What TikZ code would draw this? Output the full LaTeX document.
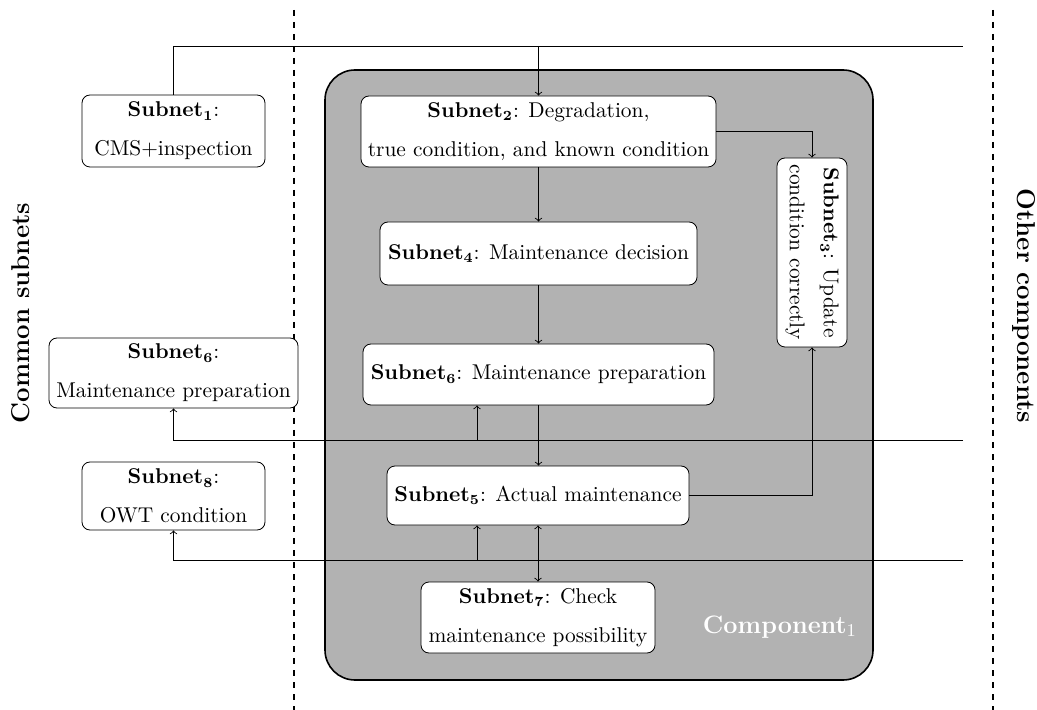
\documentclass[tikz,border=0pt]{standalone}
\usetikzlibrary{calc}
\tikzset{
  sbox/.style={draw, rounded corners=4pt, fill=white, align=center, inner sep=2pt,
    font=\fontsize{10.7}{13}\selectfont},
  conn/.style={->, line width=0.45pt},
  divider/.style={dashed, line width=0.6pt},
  sidelabel/.style={font=\fontsize{12.9}{15}\selectfont\bfseries},
}
\newcommand{\sn}[1]{\textbf{Subnet$_{\mathbf{#1}}$}}
\begin{document}
\begin{tikzpicture}[x=0.5pt, y=-0.5pt]
\useasboundingbox (0,0) rectangle (1037,710);

% component area
\draw[thick, fill=black!30, rounded corners=15pt] (325,70) rectangle (873,680);
\node[text=white, font=\fontsize{12.6}{15}\selectfont\bfseries, anchor=east] (comp) at (864,627) {Component\textmd{$_1$}};

% partition lines
\draw[divider] (294,10) coordinate (d1a) -- (294,710) coordinate (d1b);
\draw[divider] (993,10) coordinate (d2a) -- (993,710) coordinate (d2b);

\node[sidelabel, rotate=90] (common) at (21,313) {Common subnets};
\node[sidelabel, rotate=-90] (other) at (1024,306) {Other components};

% subnets
\node[sbox, minimum width=91.5pt, minimum height=36pt] (s1) at (173.5,131)
  {\sn{1}:\\[6.5pt] CMS+inspection};
\node[sbox, minimum width=177.5pt, minimum height=35.5pt] (s2) at (538.5,131.5)
  {\sn{2}: Degradation,\\[6.5pt] true condition, and known condition};
\node[sbox, rotate=-90, minimum width=94.5pt, minimum height=35pt] (s3) at (812,252.5)
  {\sn{3}: Update\\[4pt] condition correctly};
\node[sbox, minimum width=158.5pt, minimum height=31.5pt] (s4) at (538.5,253.5)
  {\sn{4}: Maintenance decision};
\node[sbox, minimum width=175.5pt, minimum height=30.5pt] (s6) at (538.5,374.5)
  {\sn{6}: Maintenance preparation};
\node[sbox, minimum width=124.5pt, minimum height=35pt] (s6L) at (173.5,373)
  {\sn{6}:\\[6.5pt] Maintenance preparation};
\node[sbox, minimum width=91.5pt, minimum height=34pt] (s8) at (173.5,496)
  {\sn{8}:\\[6.5pt] OWT condition};
\node[sbox, minimum width=151pt, minimum height=29.5pt] (s5) at (538,495.5)
  {\sn{5}: Actual maintenance};
\node[sbox, minimum width=117pt, minimum height=35.5pt] (s7) at (538,617.5)
  {\sn{7}: Check\\[6.5pt] maintenance possibility};

% external links
\coordinate (top) at (963,46);
\coordinate (bus1) at (963,440);
\coordinate (bus2) at (963,560);
\coordinate (tap1) at (477,440);
\coordinate (tap2) at (477,560);

\draw[line width=0.45pt] (s1.north) |- (top);
\draw[conn] (s2.north |- top) -- (s2.north);
\draw[conn] (bus1) -| (s6L.south);
\draw[conn] (tap1) -- (tap1 |- s6.south);
\draw[conn] (bus2) -| (s8.south);
\draw[conn] (tap2) -- (tap2 |- s5.south);

% internal flow
\draw[conn] (s2.south) -- (s2.south |- s4.north);
\draw[conn] (s4.south) -- (s4.south |- s6.north);
\draw[conn] (s6.south) -- (s6.south |- s5.north);
\draw[conn, <->] (s5.south) -- (s5.south |- s7.north);
\draw[conn] (s2.east) -| (s3.west);
\draw[conn] (s5.east) -| (s3.east);
\end{tikzpicture}
\end{document}
